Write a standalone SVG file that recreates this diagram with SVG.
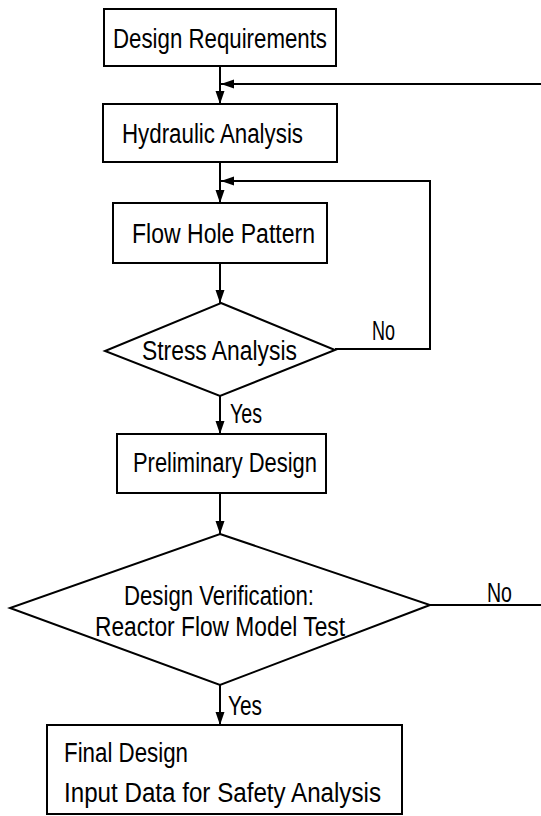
<svg xmlns="http://www.w3.org/2000/svg" width="541" height="816" viewBox="0 0 541 816">
<defs>
<marker id="ah" markerUnits="userSpaceOnUse" markerWidth="14" markerHeight="10" refX="13" refY="4.5" orient="auto">
<path d="M0,0 L13,4.5 L0,9 z" fill="#000"/>
</marker>
<style>
.box{fill:#fff;stroke:#000;stroke-width:2}
.t{font-family:"Liberation Sans",Arial,sans-serif;font-size:27px;fill:#000}
.ln{fill:none;stroke:#000;stroke-width:2}
</style>
</defs>
<rect width="541" height="816" fill="#fff"/>
<g id="connectors">
<line class="ln" x1="220" y1="66" x2="220" y2="104" marker-end="url(#ah)"/>
<line class="ln" x1="541" y1="84" x2="221" y2="84" marker-end="url(#ah)"/>
<line class="ln" x1="220" y1="162" x2="220" y2="203" marker-end="url(#ah)"/>
<polyline class="ln" points="335,349 430,349 430,181 221,181" marker-end="url(#ah)"/>
<line class="ln" x1="220" y1="263" x2="220" y2="303" marker-end="url(#ah)"/>
<line class="ln" x1="220" y1="396" x2="220" y2="434" marker-end="url(#ah)"/>
<line class="ln" x1="220" y1="493" x2="220" y2="534" marker-end="url(#ah)"/>
<line class="ln" x1="220" y1="685" x2="220" y2="725" marker-end="url(#ah)"/>
<line class="ln" x1="430" y1="605" x2="541" y2="605"/>
<text class="t" x="372" y="340" textLength="23" lengthAdjust="spacingAndGlyphs">No</text>
<text class="t" x="230" y="423" textLength="32" lengthAdjust="spacingAndGlyphs">Yes</text>
<text class="t" x="487" y="602" textLength="25" lengthAdjust="spacingAndGlyphs">No</text>
<text class="t" x="228" y="715" textLength="34" lengthAdjust="spacingAndGlyphs">Yes</text>
</g>
<g id="design-requirements">
<rect class="box" x="104" y="9" width="232" height="57"/>
<text class="t" x="113" y="48" textLength="214" lengthAdjust="spacingAndGlyphs">Design Requirements</text>
</g>
<g id="hydraulic-analysis">
<rect class="box" x="103" y="104" width="234" height="58"/>
<text class="t" x="122" y="143" textLength="181" lengthAdjust="spacingAndGlyphs">Hydraulic Analysis</text>
</g>
<g id="flow-hole-pattern">
<rect class="box" x="113" y="203" width="214" height="60"/>
<text class="t" x="132" y="243" textLength="183" lengthAdjust="spacingAndGlyphs">Flow Hole Pattern</text>
</g>
<g id="stress-analysis">
<polygon class="box" points="221,303 335,350 220,396 105,351"/>
<text class="t" x="142" y="360" textLength="155" lengthAdjust="spacingAndGlyphs">Stress Analysis</text>
</g>
<g id="preliminary-design">
<rect class="box" x="117" y="434" width="209" height="59"/>
<text class="t" x="133" y="472" textLength="184" lengthAdjust="spacingAndGlyphs">Preliminary Design</text>
</g>
<g id="design-verification">
<polygon class="box" points="220,534 430,605 220,685 10,608"/>
<text class="t" x="124" y="605" textLength="190" lengthAdjust="spacingAndGlyphs">Design Verification:</text>
<text class="t" x="95" y="636" textLength="250" lengthAdjust="spacingAndGlyphs">Reactor Flow Model Test</text>
</g>
<g id="final-design">
<rect class="box" x="47" y="725" width="355" height="89"/>
<text class="t" x="64" y="762" textLength="124" lengthAdjust="spacingAndGlyphs">Final Design</text>
<text class="t" x="64" y="802" textLength="317" lengthAdjust="spacingAndGlyphs">Input Data for Safety Analysis</text>
</g>
</svg>
